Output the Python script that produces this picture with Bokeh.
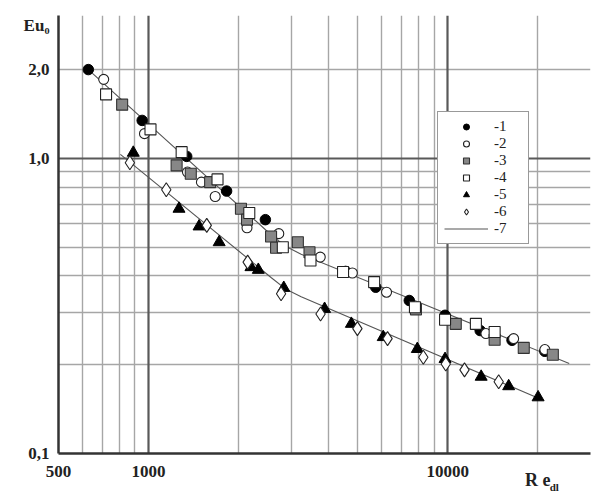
from bokeh.plotting import figure
from bokeh.models import FixedTicker, Grid, Legend, LegendItem, LogAxis
from bokeh.embed import file_html
from bokeh.resources import INLINE

# ---- data (Re_dl, Eu_0) ----
re_1 = [629, 952, 1341, 1823, 2457, 4557, 5746, 7437, 9795, 12834, 16400, 21110]
eu_1 = [2.0, 1.345, 1.016, 0.775, 0.620, 0.414, 0.366, 0.330, 0.294, 0.261, 0.242, 0.222]

re_2 = [708, 969, 1349, 1502, 1670, 2133, 2724, 3748, 4799, 6243, 13415, 16600, 21110]
eu_2 = [1.853, 1.213, 0.899, 0.831, 0.743, 0.582, 0.556, 0.463, 0.409, 0.352, 0.255, 0.245, 0.225]

re_3 = [816, 1241, 1384, 1606, 2036, 2133, 2567, 2668, 3155, 3451, 7830, 10636, 14346, 17950, 22450]
eu_3 = [1.521, 0.947, 0.887, 0.831, 0.675, 0.620, 0.544, 0.498, 0.520, 0.481, 0.308, 0.275, 0.243, 0.228, 0.216]

re_4 = [721, 1015, 1290, 1700, 2171, 2810, 3477, 4467, 5675, 7768, 9795, 12417, 14346]
eu_4 = [1.648, 1.254, 1.05, 0.849, 0.653, 0.500, 0.451, 0.412, 0.381, 0.313, 0.284, 0.275, 0.258]

re_5 = [889, 1264, 1475, 1722, 2199, 2327, 2831, 3876, 4763, 6085, 7912, 9795, 12932, 15982, 20045]
eu_5 = [1.045, 0.675, 0.588, 0.520, 0.428, 0.419, 0.364, 0.309, 0.275, 0.248, 0.226, 0.209, 0.182, 0.169, 0.155]

re_6 = [866, 1146, 1565, 2144, 2773, 3757, 4989, 6292, 8286, 9847, 11376, 14800]
eu_6 = [0.967, 0.783, 0.593, 0.445, 0.348, 0.297, 0.265, 0.245, 0.212, 0.201, 0.192, 0.175]

# curve 7 (approximation lines)
re_7a = [629, 2470, 2838, 3236, 25470]
eu_7a = [2.0, 0.571, 0.507, 0.473, 0.202]
re_7b = [805, 2567, 2882, 3236, 20200]
eu_7b = [1.032, 0.395, 0.360, 0.340, 0.1536]

x_ticks = [500, 1000, 10000]
x_tick_labels = {500: "500", 1000: "1000", 10000: "10000"}
y_ticks = [0.1, 1.0, 2.0, 2.82]
y_tick_labels = {0.1: "0,1", 1.0: "1,0", 2.0: "2,0", 2.82: "Eu\u2080"}

# x-axis title "Re_dl" placed as labels on extra axes
x_title_pos = [20000]
x_title_text = {20000: "R e"}
x_sub_pos = [22700]
x_sub_text = {22700: "dl"}

x_grid_light = [600, 700, 800, 900, 2000, 3000, 4000, 5000, 6000, 7000, 8000, 9000, 20000]
x_grid_dark = [1000, 10000]
y_grid_light = [0.2, 0.3, 0.4, 0.5, 0.6, 0.7, 0.8, 0.9, 2.0]
y_grid_dark = [1.0]

legend_labels = ["-1", "-2", "-3", "-4", "-5", "-6", "-7"]

SERIF = "Liberation Serif"

p = figure(width=591, height=498, x_axis_type="log", y_axis_type="log",
           x_range=(500, 30000), y_range=(0.1, 3.05),
           output_backend="svg", toolbar_location=None,
           min_border_left=58, min_border_right=1, min_border_top=15, min_border_bottom=45)
p.outline_line_color = None
p.background_fill_color = "white"

# grids
p.xgrid.ticker = FixedTicker(ticks=x_grid_light)
p.xgrid.grid_line_color = "#a6a6a6"
p.xgrid.grid_line_width = 1.4
p.ygrid.ticker = FixedTicker(ticks=y_grid_light)
p.ygrid.grid_line_color = "#a6a6a6"
p.ygrid.grid_line_width = 1.4
p.add_layout(Grid(dimension=0, ticker=FixedTicker(ticks=x_grid_dark),
                  grid_line_color="#595959", grid_line_width=2.2))
p.add_layout(Grid(dimension=1, ticker=FixedTicker(ticks=y_grid_dark),
                  grid_line_color="#595959", grid_line_width=2.2))

# axes
for ax in (p.xaxis[0], p.yaxis[0]):
    ax.axis_line_color = "#333333"
    ax.axis_line_width = 2.5
    ax.major_tick_line_color = None
    ax.minor_tick_line_color = None
    ax.major_tick_out = 0
    ax.major_tick_in = 0
    ax.major_label_text_font = SERIF
    ax.major_label_text_font_style = "bold"
    ax.major_label_text_font_size = "17px"
    ax.major_label_text_color = "#222222"
p.xaxis.ticker = FixedTicker(ticks=x_ticks)
p.xaxis.major_label_overrides = x_tick_labels
p.xaxis.major_label_standoff = 12
p.yaxis.ticker = FixedTicker(ticks=y_ticks)
p.yaxis.major_label_overrides = y_tick_labels
p.yaxis.major_label_standoff = 9


def title_axis(ticks, labels, size, standoff):
    ax = LogAxis(ticker=FixedTicker(ticks=ticks), major_label_overrides=labels)
    ax.axis_line_color = None
    ax.major_tick_line_color = None
    ax.minor_tick_line_color = None
    ax.major_tick_out = 0
    ax.major_tick_in = 0
    ax.major_label_standoff = standoff
    ax.major_label_text_font = SERIF
    ax.major_label_text_font_style = "bold"
    ax.major_label_text_font_size = size
    ax.major_label_text_color = "#222222"
    return ax


p.add_layout(title_axis(x_title_pos, x_title_text, "18px", -10), "below")
p.add_layout(title_axis(x_sub_pos, x_sub_text, "11px", -12), "below")

# curve 7
r7 = p.line(re_7a, eu_7a, line_color="#555555", line_width=1.1)
p.line(re_7b, eu_7b, line_color="#555555", line_width=1.1)

# markers
r1 = p.scatter(re_1, eu_1, marker="circle", size=10.5, fill_color="black", line_color="black")
r2 = p.scatter(re_2, eu_2, marker="circle", size=10, fill_color="white", line_color="#222222", line_width=1.1)
r3 = p.scatter(re_3, eu_3, marker="square", size=11, fill_color="#878787", line_color="#333333", line_width=1.1)
r4 = p.scatter(re_4, eu_4, marker="square", size=11, fill_color="white", line_color="#222222", line_width=1.1)
r5 = p.scatter(re_5, eu_5, marker="triangle", size=12, fill_color="black", line_color="black")
r6 = p.scatter(re_6, eu_6, marker="diamond", size=14,
               fill_color="white", line_color="#222222", line_width=1.1)

legend = Legend(
    items=[LegendItem(label=lab, renderers=[r]) for lab, r in
           zip(legend_labels, [r1, r2, r3, r4, r5, r6, r7])],
    location=(379, 209),
    glyph_width=44, glyph_height=15, label_height=15, label_width=28,
    spacing=0, padding=6, label_standoff=6,
    label_text_font=SERIF, label_text_font_size="15px", label_text_color="#222222",
    border_line_color="#333333", border_line_width=1.5,
    background_fill_color="white", background_fill_alpha=1.0,
)
p.add_layout(legend)

open("out.html", "w").write(file_html(p, INLINE))
